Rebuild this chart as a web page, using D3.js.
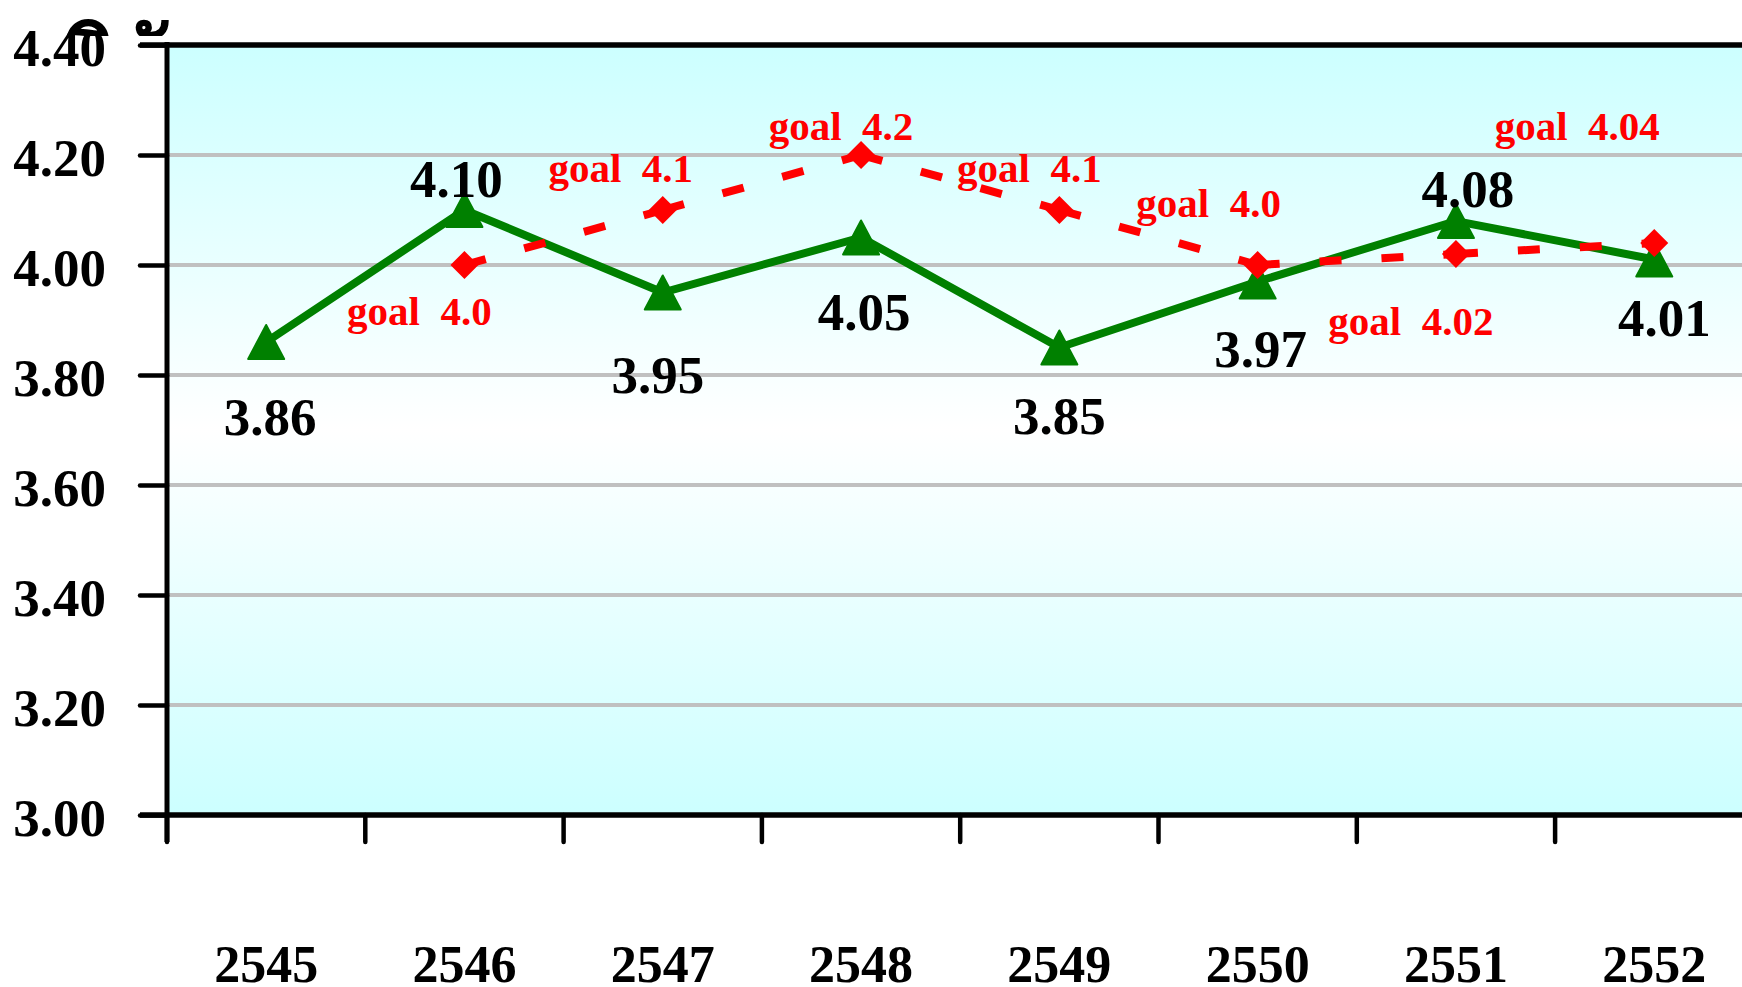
<!DOCTYPE html>
<html>
<head>
<meta charset="utf-8">
<script src="https://cdn.jsdelivr.net/npm/d3@7"></script>
<style>
  html, body { margin: 0; padding: 0; background: #ffffff; }
  svg { display: block; }
  text { font-family: "Liberation Serif", "Times New Roman", serif; font-weight: bold; }
</style>
</head>
<body>
<svg id="chart" width="1742" height="987"></svg>
<script>
// Yearly results and yearly goals
const years = ["2545", "2546", "2547", "2548", "2549", "2550", "2551", "2552"];
const actualValues = [3.86, 4.10, 3.95, 4.05, 3.85, 3.97, 4.08, 4.01];
const goalYears = ["2546", "2547", "2548", "2549", "2550", "2551", "2552"];
const goalValues = [4.0, 4.1, 4.2, 4.1, 4.0, 4.02, 4.04];
const yTickValues = [3.0, 3.2, 3.4, 3.6, 3.8, 4.0, 4.2, 4.4];
const axisTitle = "วินัย";

// Label placement relative to each point [dx, dy]
const actualLabelOffset = [[4, 93], [-8, -13], [-5, 100], [3, 92], [0, 86], [3, 85], [12, -14], [10, 76]];
const goalLabelOffset = [[-45, 60], [-42, -28], [-20, -15], [-30, -28], [-49, -48], [-45, 81], [-77, -103]];

const svg = d3.select("#chart");
const plot = { left: 167, top: 45, bottom: 815, band: 198.3 };

const x = d3.scaleBand()
  .domain(years)
  .range([plot.left, plot.left + plot.band * years.length])
  .paddingInner(0).paddingOuter(0);
const y = d3.scaleLinear().domain([3.0, 4.4]).range([plot.bottom, plot.top]);
const cx = d => x(d) + x.bandwidth() / 2;

// Background gradient of the plot area
const defs = svg.append("defs");
const grad = defs.append("linearGradient").attr("id", "bg").attr("x1", 0).attr("y1", 0).attr("x2", 0).attr("y2", 1);
grad.append("stop").attr("offset", "0%").attr("stop-color", "#ccffff");
grad.append("stop").attr("offset", "50%").attr("stop-color", "#ffffff");
grad.append("stop").attr("offset", "100%").attr("stop-color", "#ccffff");

// Axis title (only its upper marks show above the plot)
defs.append("clipPath").attr("id", "titleClip")
  .append("rect").attr("x", 0).attr("y", 12).attr("width", 300).attr("height", 24);
svg.append("text")
  .attr("clip-path", "url(#titleClip)")
  .attr("x", 68).attr("y", 88)
  .attr("font-size", 84)
  .attr("fill", "#000")
  .text(axisTitle);

svg.append("rect")
  .attr("x", plot.left).attr("y", plot.top)
  .attr("width", x.range()[1] - plot.left)
  .attr("height", plot.bottom - plot.top)
  .attr("fill", "url(#bg)");

// Horizontal gridlines
svg.append("g")
  .selectAll("line")
  .data(yTickValues.filter(v => v > 3.0 && v < 4.4))
  .join("line")
  .attr("x1", plot.left).attr("x2", x.range()[1])
  .attr("y1", d => y(d)).attr("y2", d => y(d))
  .attr("stroke", "#c0c0c0").attr("stroke-width", 4);

// Y axis
const yAxis = d3.axisLeft(y).tickValues(yTickValues).tickFormat(d3.format(".2f")).tickSize(27).tickPadding(34);
const gy = svg.append("g").attr("transform", `translate(${plot.left},0)`).call(yAxis);
gy.select(".domain").remove();
gy.selectAll(".tick line").attr("stroke", "#000").attr("stroke-width", 4.5).attr("stroke-linecap", "round");
gy.selectAll(".tick text")
  .attr("fill", "#000").attr("font-size", 53)
  .attr("font-family", "Liberation Serif, serif").attr("font-weight", "bold")
  .attr("dy", 20);

// X axis ticks at band boundaries
const gx = svg.append("g");
gx.selectAll("line")
  .data(years)
  .join("line")
  .attr("x1", d => x(d)).attr("x2", d => x(d))
  .attr("y1", plot.bottom).attr("y2", plot.bottom + 27)
  .attr("stroke", "#000").attr("stroke-width", 4.5).attr("stroke-linecap", "round");
gx.selectAll("text")
  .data(years)
  .join("text")
  .attr("x", d => cx(d)).attr("y", 982)
  .attr("text-anchor", "middle")
  .attr("font-size", 52)
  .attr("fill", "#000")
  .text(d => d);

// Frame lines
svg.append("line").attr("x1", plot.left).attr("x2", plot.left).attr("y1", plot.top - 3).attr("y2", plot.bottom + 27)
  .attr("stroke", "#000").attr("stroke-width", 5);
svg.append("line").attr("x1", plot.left - 27).attr("x2", x.range()[1]).attr("y1", plot.bottom).attr("y2", plot.bottom)
  .attr("stroke", "#000").attr("stroke-width", 5.5);
svg.append("line").attr("x1", plot.left - 27).attr("x2", x.range()[1]).attr("y1", plot.top).attr("y2", plot.top)
  .attr("stroke", "#000").attr("stroke-width", 5.5);

// Actual series line
const actualPts = years.map((yr, i) => [cx(yr), y(actualValues[i])]);
svg.append("path")
  .attr("d", d3.line()(actualPts))
  .attr("fill", "none")
  .attr("stroke", "#008000").attr("stroke-width", 8).attr("stroke-linejoin", "miter");

svg.append("g")
  .selectAll("path")
  .data(actualPts)
  .join("path")
  .attr("transform", d => `translate(${d[0]},${d[1]})`)
  .attr("d", "M0,-17 L18,17 L-18,17 Z")
  .attr("fill", "#008000").attr("stroke", "#008000").attr("stroke-width", 2).attr("stroke-linejoin", "round");

// Goal series: dashed segments, each starting with a dash
const goalPts = goalYears.map((yr, i) => [cx(yr), y(goalValues[i])]);
svg.append("g")
  .selectAll("path")
  .data(d3.pairs(goalPts))
  .join("path")
  .attr("d", d => d3.line()(d))
  .attr("fill", "none")
  .attr("stroke", "#ff0000").attr("stroke-width", 8)
  .attr("stroke-dasharray", "22 40");

svg.append("g")
  .selectAll("path")
  .data(goalPts)
  .join("path")
  .attr("transform", d => `translate(${d[0]},${d[1]})`)
  .attr("d", "M0,-14 L14,0 L0,14 L-14,0 Z")
  .attr("fill", "#ff0000");

// Value labels
svg.append("g")
  .selectAll("text")
  .data(actualPts)
  .join("text")
  .attr("x", (d, i) => d[0] + actualLabelOffset[i][0])
  .attr("y", (d, i) => d[1] + actualLabelOffset[i][1])
  .attr("text-anchor", "middle")
  .attr("font-size", 53)
  .attr("fill", "#000")
  .text((d, i) => actualValues[i].toFixed(2));

const fmtGoal = v => (Math.abs(v * 10 - Math.round(v * 10)) < 1e-9 ? v.toFixed(1) : v.toFixed(2));
svg.append("g")
  .selectAll("text")
  .data(goalPts)
  .join("text")
  .attr("x", (d, i) => d[0] + goalLabelOffset[i][0])
  .attr("y", (d, i) => d[1] + goalLabelOffset[i][1])
  .attr("text-anchor", "middle")
  .attr("font-size", 41)
  .attr("fill", "#ff0000")
  .style("white-space", "pre")
  .text((d, i) => "goal  " + fmtGoal(goalValues[i]));
</script>
</body>
</html>
